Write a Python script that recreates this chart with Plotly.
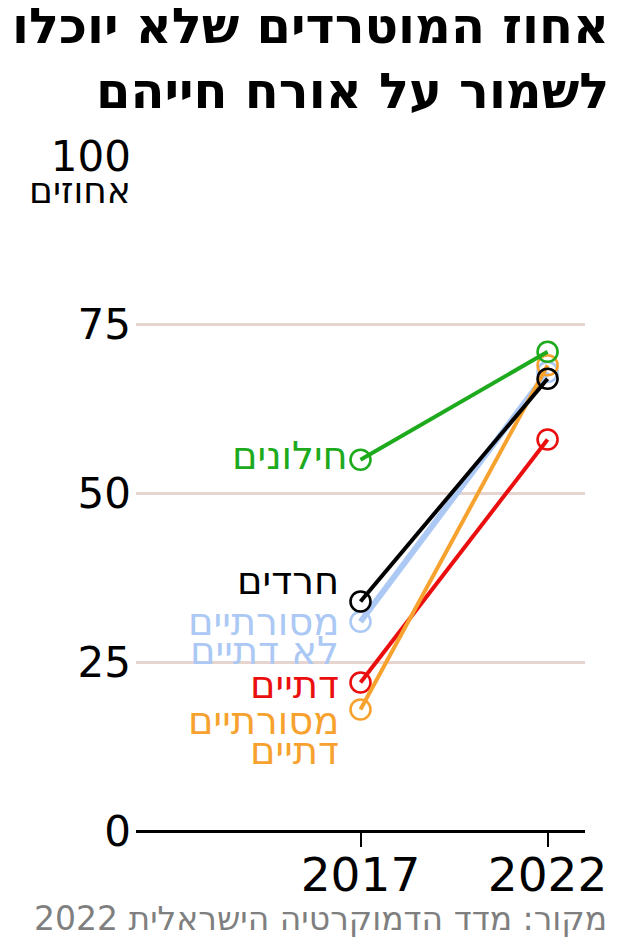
import plotly.graph_objects as go

# data
years = [2017, 2022]
groups = ["מסורתיים לא דתיים", "דתיים", "מסורתיים דתיים", "חרדים", "חילונים"]
values = {
    "חילונים": [55, 71],
    "חרדים": [34, 67],
    "מסורתיים לא דתיים": [31, 68],
    "דתיים": [22, 58],
    "מסורתיים דתיים": [18, 69],
}
label_lines = {
    "חילונים": ["חילונים"],
    "חרדים": ["חרדים"],
    "מסורתיים לא דתיים": ["מסורתיים", "לא דתיים"],
    "דתיים": ["דתיים"],
    "מסורתיים דתיים": ["מסורתיים", "דתיים"],
}
y_ticks = [0, 25, 50, 75, 100]

colors = {
    "חילונים": "#1daa1d",
    "חרדים": "#000000",
    "מסורתיים לא דתיים": "#acc8f4",
    "דתיים": "#ea0e0e",
    "מסורתיים דתיים": "#f7a22e",
}
widths = {
    "חילונים": 4,
    "חרדים": 4,
    "מסורתיים לא דתיים": 6,
    "דתיים": 4,
    "מסורתיים דתיים": 4,
}
# label placement: (x shift, y shifts per line) in px relative to the 2017 point
label_pos = {
    "חילונים": (-11, [4]),
    "חרדים": (-20, [21]),
    "מסורתיים לא דתיים": (-20, [0, -29]),
    "דתיים": (-20, [-2]),
    "מסורתיים דתיים": (-20, [-11, -41]),
}

W, H = 619, 945
OFF = 8  # the page puts the plot 8px in from the corner
L, R, T, B = 136, 585, 156, 831
FONT = "DejaVu Sans"


def px(x):
    return (x - L) / (R - L)


def py(y):
    return (B - y) / (B - T)


fig = go.Figure()

for g in groups:
    fig.add_trace(go.Scatter(
        x=years, y=values[g], mode="lines+markers",
        line=dict(color=colors[g], width=widths[g]),
        marker=dict(symbol="circle-open", size=20, color=colors[g],
                    line=dict(width=2.6, color=colors[g])),
        cliponaxis=False, showlegend=False, hoverinfo="skip",
    ))

annotations = []
for g in groups:
    xs, ys = label_pos[g]
    for txt, off in zip(label_lines[g], ys):
        annotations.append(dict(
            x=years[0], y=values[g][0], xref="x", yref="y", text=txt, showarrow=False,
            xanchor="right", yanchor="middle", xshift=xs, yshift=off,
            font=dict(family=FONT, size=38.5, color=colors[g]),
        ))

# title
title_lines = ["אחוז המוטרדים שלא יוכלו", "לשמור על אורח חייהם"]
for txt, yc in zip(title_lines, [26, 91]):
    annotations.append(dict(
        x=px(611), y=py(yc), xref="paper", yref="paper", text=txt,
        showarrow=False, xanchor="right", yanchor="middle",
        font=dict(family=FONT, size=49.5, color="#000000", weight="bold"),
    ))
# unit under the top tick
annotations.append(dict(
    x=px(133), y=py(190), xref="paper", yref="paper", text="אחוזים",
    showarrow=False, xanchor="right", yanchor="middle",
    font=dict(family=FONT, size=36, color="#000000"),
))
# source
annotations.append(dict(
    x=px(609), y=py(918), xref="paper", yref="paper", text="מקור: מדד הדמוקרטיה הישראלית 2022",
    showarrow=False, xanchor="right", yanchor="middle",
    font=dict(family=FONT, size=33, color="#7f7f7f"),
))

fig.update_layout(
    width=W, height=H,
    margin=dict(l=L - OFF, r=W - R + OFF, t=T - OFF, b=H - B + OFF, pad=0),
    paper_bgcolor="#ffffff", plot_bgcolor="#ffffff",
    font=dict(family=FONT, color="#000000"),
    annotations=annotations,
    xaxis=dict(
        range=[2011, 2023], tickvals=years, ticktext=[str(y) for y in years],
        ticks="outside", ticklen=15, tickwidth=2, tickcolor="#000000",
        showgrid=False, zeroline=False, showline=False,
        ticklabelstandoff=-12,
        tickfont=dict(family=FONT, size=47, color="#000000"),
        fixedrange=True,
    ),
    yaxis=dict(
        range=[0, 100], tickvals=y_ticks, ticktext=[str(t) for t in y_ticks],
        showgrid=True, gridcolor="#e6d5cf", gridwidth=3,
        zeroline=True, zerolinecolor="#000000", zerolinewidth=3,
        showline=False, ticks="", ticklabelstandoff=4,
        tickfont=dict(family=FONT, size=42, color="#000000"),
        fixedrange=True,
    ),
)

fig.write_html("out.html")
